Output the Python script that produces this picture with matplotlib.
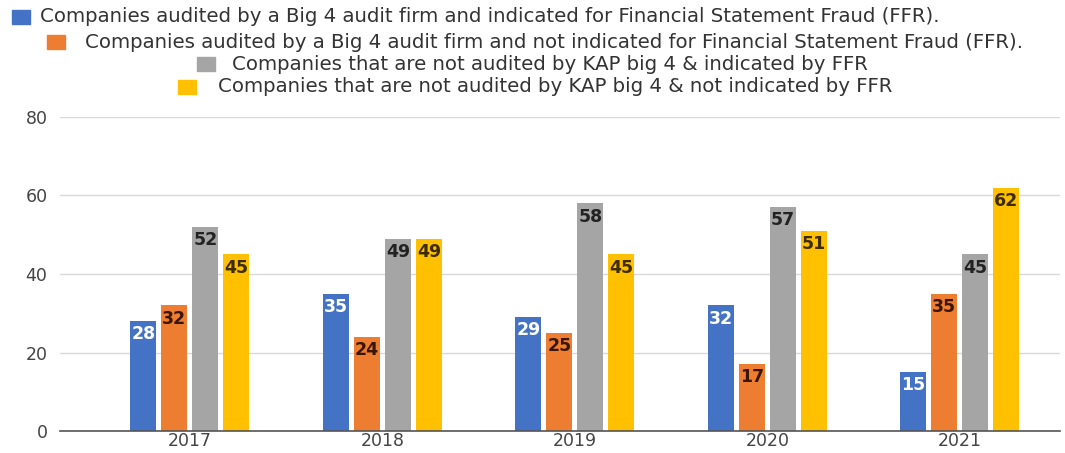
import numpy as np
import matplotlib.pyplot as plt
from matplotlib.patches import Rectangle

plt.rcParams['font.family'] = ['DejaVu Sans']

years = ["2017", "2018", "2019", "2020", "2021"]
big4_ffr = [28, 35, 29, 32, 15]
big4_no_ffr = [32, 24, 25, 17, 35]
nonbig4_ffr = [52, 49, 58, 57, 45]
nonbig4_no_ffr = [45, 49, 45, 51, 62]

series_names = [
    "Companies audited by a Big 4 audit firm and indicated for Financial Statement Fraud (FFR).",
    "Companies audited by a Big 4 audit firm and not indicated for Financial Statement Fraud (FFR).",
    "Companies that are not audited by KAP big 4 & indicated by FFR",
    "Companies that are not audited by KAP big 4 & not indicated by FFR",
]
colors = ["#4472c4", "#ed7d31", "#a5a5a5", "#ffc000"]
label_colors = ["white", "#3a1600", "#222222", "#3d2c00"]

W, H = 1065, 453
fig = plt.figure(figsize=(W / 100, H / 100), dpi=100)
ax = fig.add_axes([60 / W, (H - 431) / H, 1000 / W, 314 / H])

x = np.arange(len(years))
step = 0.161
width = 0.135
all_series = [big4_ffr, big4_no_ffr, nonbig4_ffr, nonbig4_no_ffr]
for i, vals in enumerate(all_series):
    pos = x + (i - 1.5) * step
    bars = ax.bar(pos, vals, width=width, color=colors[i], zorder=3)
    for b, v in zip(bars, vals):
        ax.annotate(str(v), (b.get_x() + b.get_width() / 2, v),
                    xytext=(0, -3), textcoords="offset points",
                    ha="center", va="top", fontsize=12.5, fontweight="bold",
                    color=label_colors[i], zorder=4)

ax.set_xlim(-0.675, 4.52)
ax.set_ylim(0, 80)
ax.set_yticks([0, 20, 40, 60, 80])
ax.set_xticks(x)
ax.set_xticklabels(years)
ax.yaxis.grid(True, color="#d9d9d9", linewidth=1, zorder=0)
for s in ["top", "right", "left"]:
    ax.spines[s].set_visible(False)
ax.spines["bottom"].set_color("#555555")
ax.spines["bottom"].set_linewidth(1.2)
ax.spines["bottom"].set_zorder(5)
ax.tick_params(axis="both", length=0, labelsize=12.5, colors="#444444")
ax.tick_params(axis="y", pad=9)
ax.tick_params(axis="x", pad=1)

# staggered legend rows across the top: (swatch x, text x, row y) in pixels
legend_rows = [(12, 40, 17), (47, 85, 42), (197, 232, 64), (178, 218, 87)]
for (sx, tx, ly), name, c in zip(legend_rows, series_names, colors):
    fig.patches.append(Rectangle((sx / W, (H - ly - 7) / H), 18 / W, 14 / H,
                                 transform=fig.transFigure, color=c))
    fig.text(tx / W, (H - ly) / H, name, ha="left", va="center",
             fontsize=14.2, color="#333333")

fig.savefig("out.png", dpi=100)
